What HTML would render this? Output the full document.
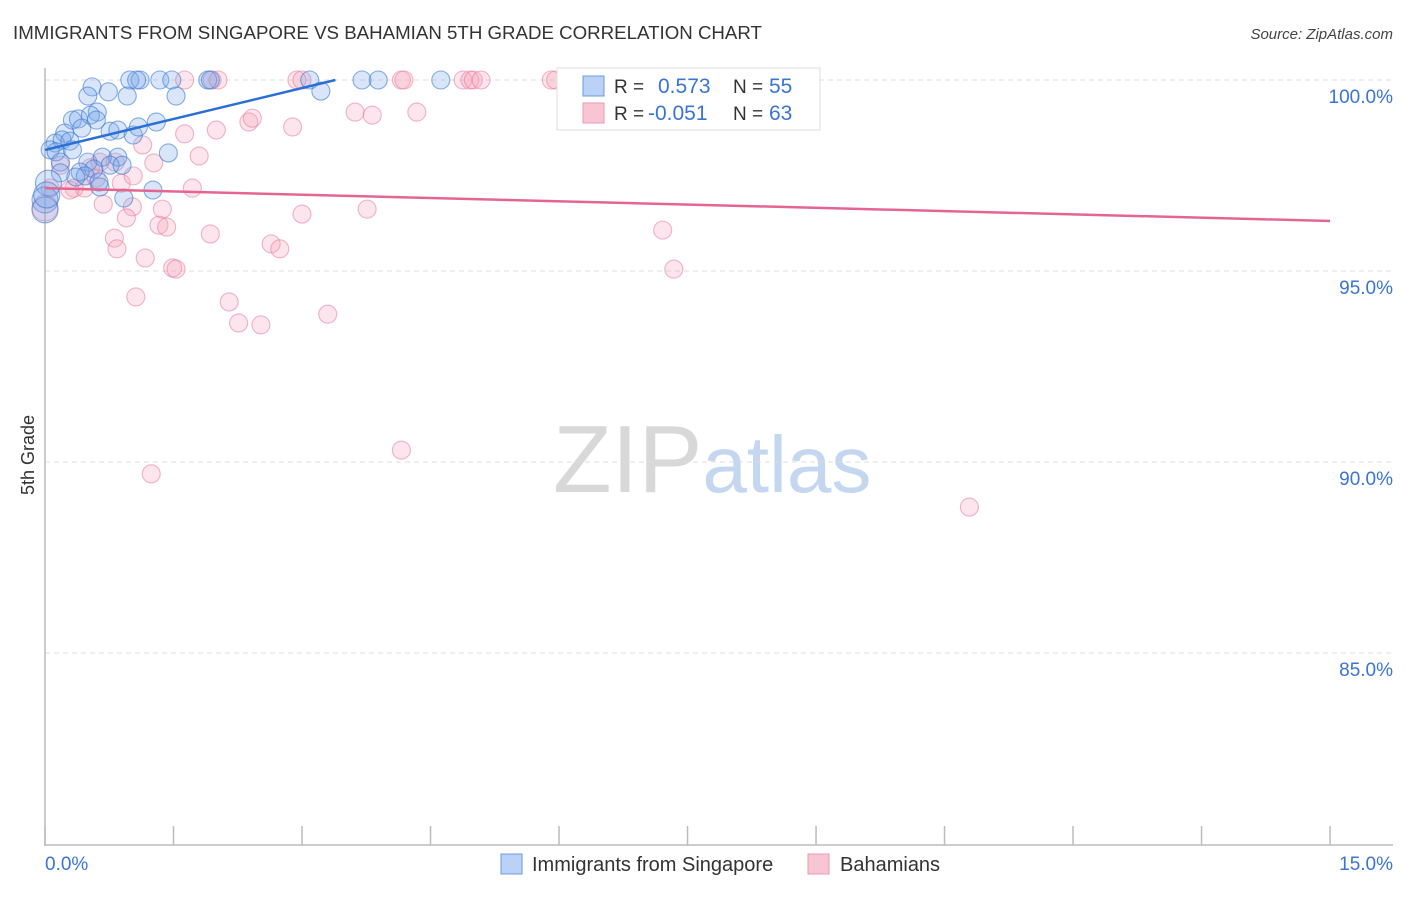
<!DOCTYPE html>
<html><head><meta charset="utf-8"><style>
body{margin:0;background:#fff;font-family:"Liberation Sans",sans-serif;}
svg text{font-family:"Liberation Sans",sans-serif;}
</style></head><body>
<svg id="chart" width="1406" height="892" xmlns="http://www.w3.org/2000/svg">
<text x="13" y="39" font-size="18.7" fill="#333">IMMIGRANTS FROM SINGAPORE VS BAHAMIAN 5TH GRADE CORRELATION CHART</text>
<text x="1393" y="39" font-size="15" fill="#444" text-anchor="end" font-style="italic">Source: ZipAtlas.com</text>
<text x="553" y="492" font-size="96" fill="#d8d8d8" font-family="Liberation Serif">ZIP<tspan fill="#c4d6f0" font-family="Liberation Sans" font-size="80">atlas</tspan></text>
<text transform="translate(34,455) rotate(-90)" font-size="18" fill="#333" text-anchor="middle">5th Grade</text>
<g id="grid"></g>
<g id="axes"></g>
<g id="points"></g>
<g id="lines"></g>
<g>
<rect x="557" y="68" width="263" height="62" fill="#fff" stroke="#ddd"/>
<rect x="583" y="76" width="21" height="20" fill="#b9d2f5" stroke="#6b9be0"/>
<rect x="583" y="103" width="21" height="20" fill="#f9c5d4" stroke="#e99ab2"/>
<text x="614" y="93" font-size="19" fill="#333">R =</text>
<text x="658" y="93" font-size="21" fill="#3a74d4">0.573</text>
<text x="733" y="93" font-size="19" fill="#333">N =</text>
<text x="769" y="93" font-size="21" fill="#3a74d4">55</text>
<text x="614" y="120" font-size="19" fill="#333">R =</text>
<text x="648" y="120" font-size="21" fill="#3a74d4">-0.051</text>
<text x="733" y="120" font-size="19" fill="#333">N =</text>
<text x="769" y="120" font-size="21" fill="#3a74d4">63</text>
</g>
<g>
<rect x="501" y="854" width="21" height="20" fill="#b9d2f5" stroke="#6b9be0"/>
<text x="532" y="871" font-size="20" fill="#333">Immigrants from Singapore</text>
<rect x="808" y="854" width="21" height="20" fill="#f9c5d4" stroke="#e99ab2"/>
<text x="840" y="871" font-size="20" fill="#333">Bahamians</text>
</g>
</svg>
<script>
const yTicks=[100,95,90,85];
const yTickLabels=["100.0%","95.0%","90.0%","85.0%"];
const xTicks=[0,1.5,3,4.5,6,7.5,9,10.5,12,13.5,15];
const blueX=[0.55,0.99,1.11,1.07,1.34,1.48,1.90,1.93,3.09,3.70,3.89,4.62,0.50,0.74,0.96,1.53,3.22,0.32,0.39,0.61,0.53,0.60,0.43,0.23,0.12,0.20,0.29,0.76,0.85,1.03,1.09,1.30,1.44,0.06,0.13,0.32,0.18,0.50,0.67,0.85,0.76,0.90,0.18,0.41,0.57,0.04,0.64,1.26,0.92,0,0,0.02,0.47,0.36,0.63];
const blueY=[99.82,100,100,100,100,100,100,100,100,100,100,100,99.58,99.69,99.58,99.58,99.71,98.95,98.98,99.16,99.08,98.95,98.74,98.61,98.35,98.43,98.40,98.66,98.69,98.56,98.77,98.90,98.09,98.17,98.12,98.17,97.85,97.85,97.98,97.98,97.77,97.77,97.57,97.59,97.67,97.30,97.20,97.12,96.91,96.86,96.60,96.99,97.49,97.46,97.33];
const pinkX=[1.63,1.95,2.02,2.94,3.0,4.16,4.19,4.88,4.96,5.0,5.09,5.91,5.96,3.62,3.82,4.34,2.38,2.42,2.89,1.63,2.0,1.14,1.80,1.27,0.89,1.72,0.46,0.34,0.29,0.18,0.64,0.82,1.03,0.60,0.06,0,0.68,1.02,1.37,0.95,1.33,1.42,3.0,3.76,1.93,2.64,2.74,0.81,0.84,1.17,1.49,1.53,2.15,1.06,2.26,2.52,3.30,7.21,7.34,4.16,1.24,10.79,0.53];
const pinkY=[100,100,100,100,100,100,100,100,100,100,100,100,100,99.16,99.08,99.16,98.90,99.0,98.77,98.59,98.69,98.30,98.01,97.83,97.30,97.17,97.17,97.17,97.12,97.77,97.85,97.85,97.49,97.43,97.17,96.65,96.75,96.68,96.62,96.39,96.20,96.15,96.49,96.62,95.97,95.71,95.58,95.86,95.58,95.34,95.08,95.05,94.19,94.32,93.64,93.59,93.87,96.07,95.05,90.31,89.69,88.82,97.70];
const blueLine=[[0,98.17],[3.39,100]];
const pinkLine=[[0,97.17],[15,96.31]];
const NS="http://www.w3.org/2000/svg";
const X=v=>45+v*85.67;
const Y=v=>80+(100-v)*38.2;
function mk(tag,attrs,parent){const e=document.createElementNS(NS,tag);for(const k in attrs)e.setAttribute(k,attrs[k]);parent.appendChild(e);return e;}
const grid=document.getElementById('grid'),axes=document.getElementById('axes'),pts=document.getElementById('points'),lines=document.getElementById('lines');
yTicks.forEach((t,i)=>{
 const l=mk('line',{x1:45,x2:1393,y1:Y(t),y2:Y(t),stroke:'#ddd','stroke-dasharray':'5,4'},grid);
 
 
 const tx=mk('text',{x:1393,y:Y(t)+23,'font-size':19,fill:'#3a74d4','text-anchor':'end'},grid);
 tx.textContent=yTickLabels[i];
 
 
});
const ya=mk('line',{x1:45,x2:45,y1:68,y2:845,stroke:'#bbb','stroke-width':1.5},axes);


const xa=mk('line',{x1:44,x2:1393,y1:845,y2:845,stroke:'#bbb','stroke-width':1.5},axes);


xTicks.forEach(t=>{
 const l=mk('line',{x1:X(t),x2:X(t),y1:826,y2:845,stroke:'#bbb','stroke-width':1.5},axes);
 
 
});
const xl0=mk('text',{x:45,y:870,'font-size':19,fill:'#3a74d4'},axes);xl0.textContent="0.0%";


const xl1=mk('text',{x:1393,y:870,'font-size':19,fill:'#3a74d4','text-anchor':'end'},axes);xl1.textContent="15.0%";


function drawPts(xs,ys,fill,stroke,name){
 xs.forEach((x,i)=>{
  const r=x<0.05?13:9;
  const c=mk('circle',{cx:X(x),cy:Y(ys[i]),r:r,fill:fill,stroke:stroke,'stroke-width':1.1},pts);
  
  
 });
}
drawPts(pinkX,pinkY,'rgba(244,160,186,0.28)','rgba(230,120,155,0.55)','point-bahamians');
drawPts(blueX,blueY,'rgba(120,165,235,0.28)','rgba(60,120,210,0.6)','point-singapore');
const bl=mk('line',{x1:X(blueLine[0][0]),y1:Y(blueLine[0][1]),x2:X(blueLine[1][0]),y2:Y(blueLine[1][1]),stroke:'#2a6fd6','stroke-width':2.5},lines);


const pl=mk('line',{x1:X(pinkLine[0][0]),y1:Y(pinkLine[0][1]),x2:X(pinkLine[1][0]),y2:Y(pinkLine[1][1]),stroke:'#e4668f','stroke-width':2.5},lines);


</script>
</body></html>
